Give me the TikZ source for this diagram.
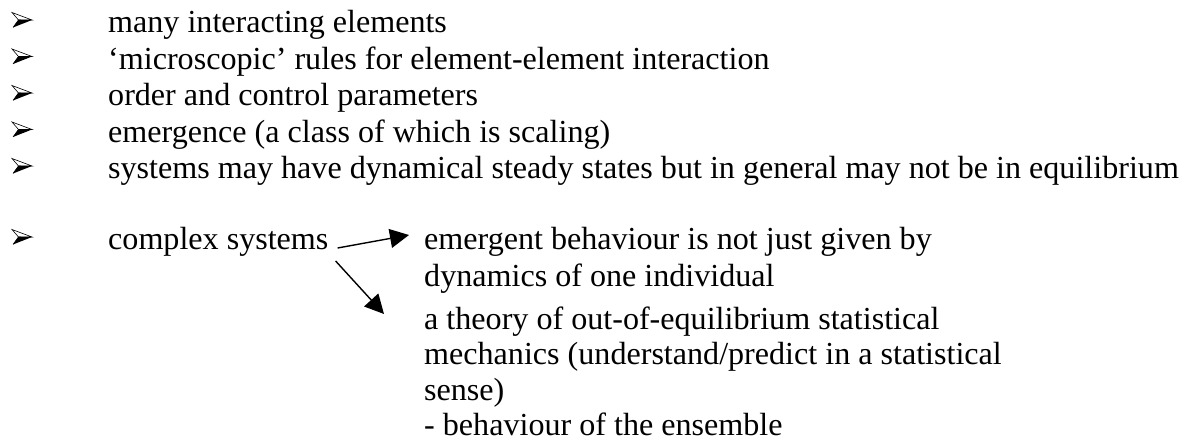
\documentclass[tikz,border=0pt]{standalone}
\usepackage{fontspec}
\setmainfont{Liberation Serif}
\usetikzlibrary{arrows.meta}
\tikzset{
  txt/.style={anchor=base west, inner sep=0pt, font=\fontsize{32.1}{36.5}\selectfont},
  arr/.style={line width=1.4pt, -{Triangle[length=19pt,width=19pt]}}
}
\newcommand{\bulletarrow}[1]{%
  \begin{scope}[shift={(0,#1)}]
    \filldraw[fill=white, draw=black, line width=0.6pt] (12,-20.5) -- (32,-13) -- (18.5,-13) -- cycle;
    \fill[black] (18.5,-13.3) -- (32,-13) -- (13,-5.5) -- cycle;
    \draw[line width=0.6pt] (18.5,-13) -- (13,-5.5);
  \end{scope}}
\begin{document}
\begin{tikzpicture}[x=1pt,y=-1pt]
\useasboundingbox (0,0) rectangle (1182,446);
\bulletarrow{33}
\bulletarrow{69.5}
\bulletarrow{106}
\bulletarrow{142.5}
\bulletarrow{179}
\bulletarrow{250}
\node[txt] (i1) at (108,33) {many interacting elements};
\node[txt] (i2) at (108,69.5) {‘microscopic’ rules for element-element interaction};
\node[txt] (i3) at (108,106) {order and control parameters};
\node[txt] (i4) at (108,142.5) {emergence (a class of which is scaling)};
\node[txt] (i5) at (108,179) {systems may have dynamical steady states but in general may not be in equilibrium};
\node[txt] (cs) at (108,250) {complex systems};
\node[txt] (e1) at (424,250) {emergent behaviour is not just given by};
\node[txt] (e2) at (424,286) {dynamics of one individual};
\node[txt] (t1) at (424,329) {a theory of out-of-equilibrium statistical};
\node[txt] (t2) at (424,364.5) {mechanics (understand/predict in a statistical};
\node[txt] (t3) at (424,400) {sense)};
\node[txt] (t4) at (424,435.5) {- behaviour of the ensemble};
\draw[arr] ([xshift=9pt,yshift=2pt]cs.base east) -- ([xshift=-15pt,yshift=15pt]e1.base west);
\draw[arr] ([xshift=7pt,yshift=-11pt]cs.base east) -- ([xshift=-40pt,yshift=15pt]t1.base west);
\end{tikzpicture}
\end{document}
